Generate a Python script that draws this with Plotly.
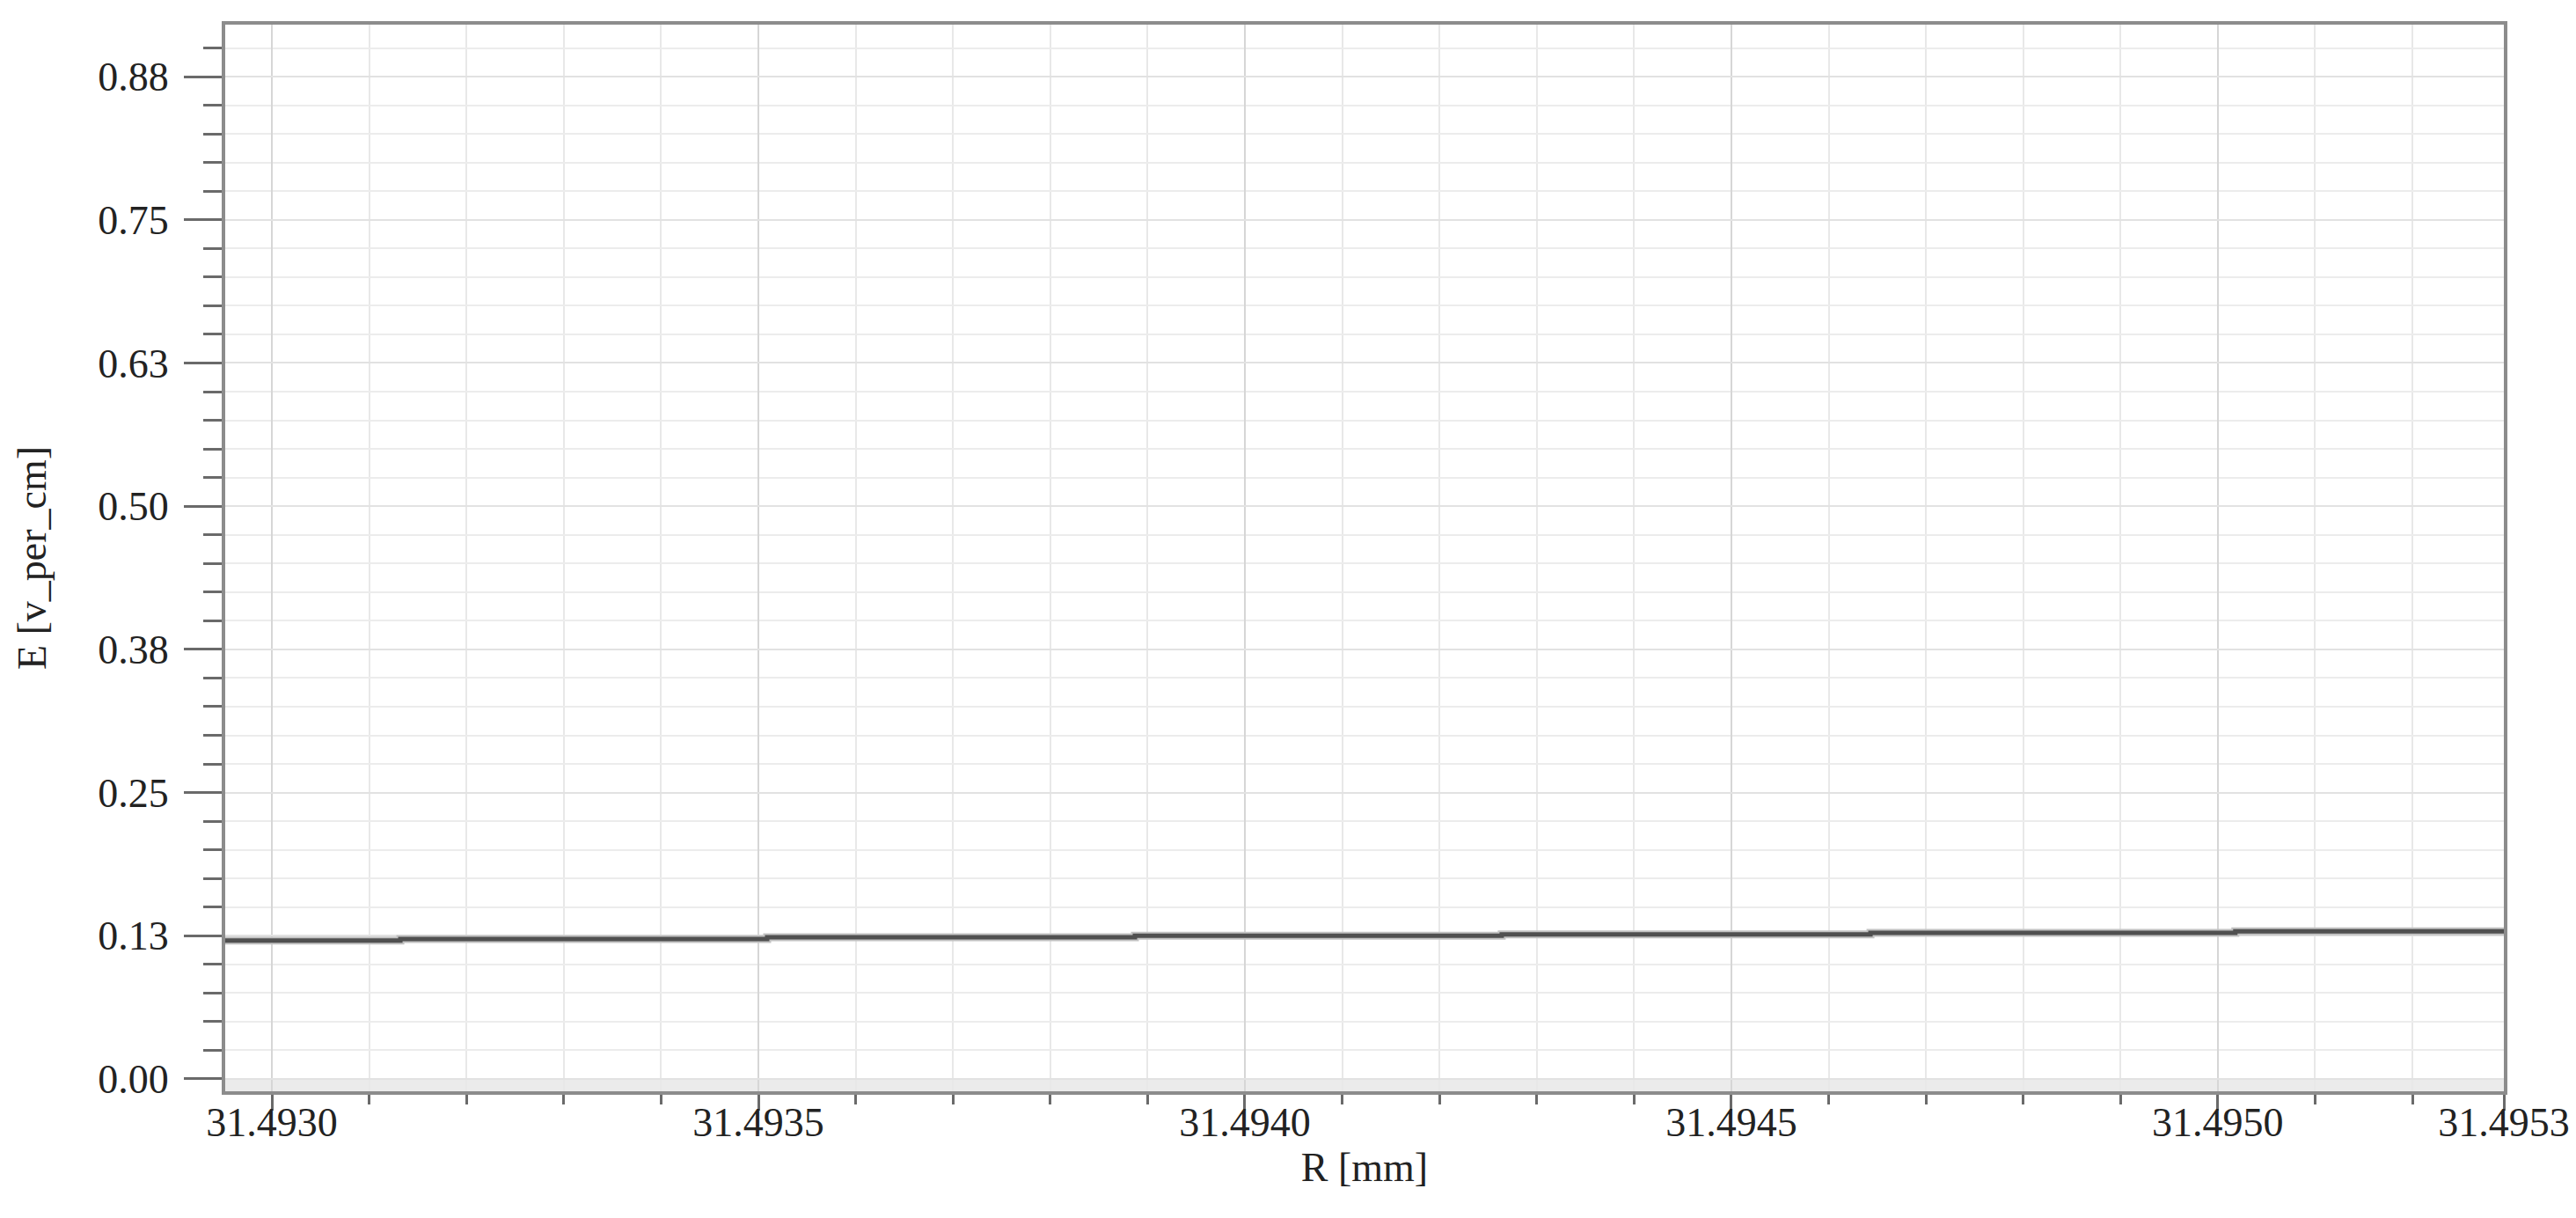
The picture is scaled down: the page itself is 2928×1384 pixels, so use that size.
import plotly.graph_objects as go

# R positions where E changes level (mm), plus the ends of the sweep
r_edges = [31.492952, 31.493132, 31.493509, 31.493887, 31.494264, 31.494643, 31.495018, 31.495294]
# E level on each segment (v_per_cm), last value repeated for the end point
e_levels = [0.1209, 0.1222, 0.1237, 0.1250, 0.1262, 0.1275, 0.1288, 0.1288]

x_tick_vals = [31.4930, 31.4935, 31.4940, 31.4945, 31.4950, 31.495294]
x_tick_text = ["31.4930", "31.4935", "31.4940", "31.4945", "31.4950", "31.4953"]
y_tick_vals = [0.0, 0.125, 0.25, 0.375, 0.5, 0.625, 0.75, 0.875]
y_tick_text = ["0.00", "0.13", "0.25", "0.38", "0.50", "0.63", "0.75", "0.88"]

x_range = [31.492952, 31.495294]
y_range = [-0.01076, 0.9204]

FONT = "Liberation Serif"
AXIS_GRAY = "#8c8c8c"

fig = go.Figure()

# soft halo under the curve
fig.add_trace(
    go.Scatter(
        x=r_edges,
        y=e_levels,
        mode="lines",
        line=dict(color="#c2c2c2", width=9, shape="hv"),
        hoverinfo="skip",
        showlegend=False,
    )
)
fig.add_trace(
    go.Scatter(
        x=r_edges,
        y=e_levels,
        mode="lines",
        line=dict(color="#505050", width=5, shape="hv"),
        name="E",
        showlegend=False,
    )
)

# grey band below zero
fig.add_shape(
    type="rect",
    xref="paper",
    yref="y",
    x0=0,
    x1=1,
    y0=y_range[0],
    y1=0,
    fillcolor="#ebebeb",
    line=dict(width=0),
    layer="below",
)
# faint frame edge at the far right of the picture
fig.add_shape(
    type="line",
    xref="paper",
    yref="paper",
    x0=1.0297,
    x1=1.0297,
    y0=-0.099,
    y1=1.0165,
    line=dict(color="#e4e4e4", width=2),
)

fig.update_layout(
    width=2928,
    height=1384,
    margin=dict(l=248, r=90, t=20, b=152),
    paper_bgcolor="white",
    plot_bgcolor="white",
    font=dict(family=FONT, size=46, color="#222222"),
    showlegend=False,
)

fig.update_xaxes(
    range=x_range,
    tickmode="array",
    tickvals=x_tick_vals,
    ticktext=x_tick_text,
    ticks="outside",
    ticklen=18,
    tickwidth=3,
    tickcolor="#6a6a6a",
    ticklabelstandoff=-26,
    showline=True,
    linecolor=AXIS_GRAY,
    linewidth=4,
    mirror=True,
    showgrid=True,
    gridcolor="#d6d6d6",
    gridwidth=2,
    zeroline=False,
    tickfont=dict(family=FONT, size=46, color="#222222"),
    title=dict(text="R [mm]", font=dict(family=FONT, size=46, color="#222222"), standoff=0),
    minor=dict(
        tickmode="linear",
        tick0=31.4930,
        dtick=0.0001,
        ticks="outside",
        ticklen=11,
        tickwidth=3,
        tickcolor="#6a6a6a",
        showgrid=True,
        gridcolor="#e8e8e8",
        gridwidth=2,
    ),
)

fig.update_yaxes(
    range=y_range,
    tickmode="array",
    tickvals=y_tick_vals,
    ticktext=y_tick_text,
    ticks="outside",
    ticklen=43,
    tickwidth=3,
    tickcolor="#6a6a6a",
    ticklabelstandoff=8,
    showline=True,
    linecolor=AXIS_GRAY,
    linewidth=4,
    mirror=True,
    showgrid=True,
    gridcolor="#e2e2e2",
    gridwidth=2,
    zeroline=False,
    tickfont=dict(family=FONT, size=46, color="#222222"),
    title=dict(text="E [v_per_cm]", font=dict(family=FONT, size=46, color="#222222"), standoff=45),
    minor=dict(
        tickmode="linear",
        tick0=0,
        dtick=0.025,
        ticks="outside",
        ticklen=21,
        tickwidth=3,
        tickcolor="#6a6a6a",
        showgrid=True,
        gridcolor="#ececec",
        gridwidth=2,
    ),
)

fig.write_html("out.html")
